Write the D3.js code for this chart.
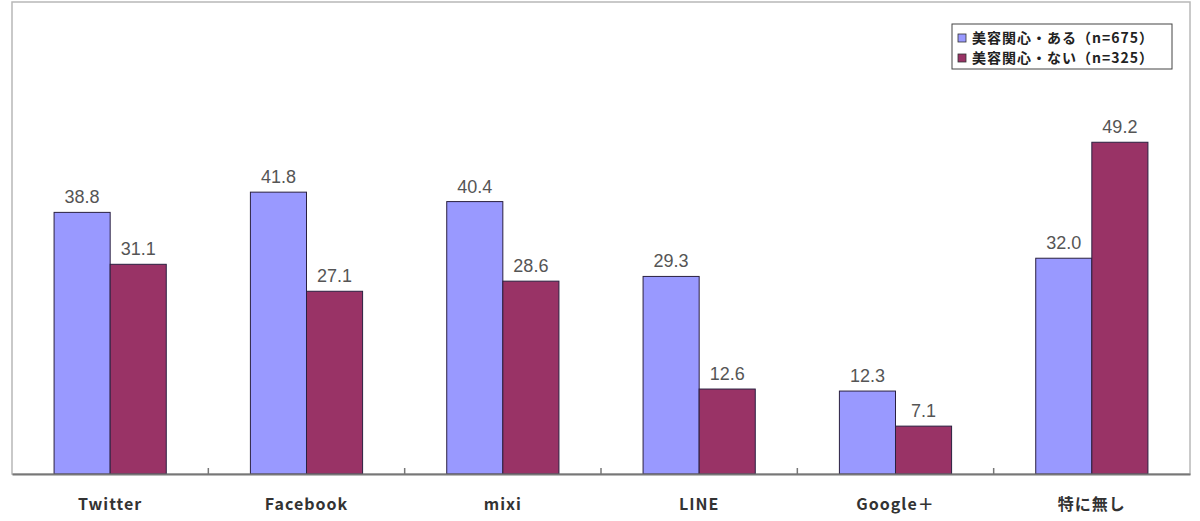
<!DOCTYPE html>
<html lang="ja">
<head>
<meta charset="UTF-8">
<title>SNS利用率</title>
<script src="https://cdnjs.cloudflare.com/ajax/libs/d3/7.8.5/d3.min.js"></script>
<style>
    body { margin: 0; padding: 0; background: #fff; }
    svg { display: block; }
    .val { font-family: "Liberation Sans", Arial, sans-serif; font-size: 18px; fill: #555; }
    .cat { font-family: "Noto Sans CJK JP", sans-serif; font-size: 16px; font-weight: bold; fill: #333; letter-spacing: 1px; }
    .leg { font-family: "Noto Sans CJK JP", sans-serif; font-size: 14px; font-weight: bold; fill: #222; letter-spacing: 1px; }
</style>
</head>
<body>
<div id="chart"></div>
<script>
// data
const categories = ["Twitter", "Facebook", "mixi", "LINE", "Google＋", "特に無し"];
const seriesNames = ["美容関心・ある（n=675）", "美容関心・ない（n=325）"];
const interested = [38.8, 41.8, 40.4, 29.3, 12.3, 32.0];
const notInterested = [31.1, 27.1, 28.6, 12.6, 7.1, 49.2];
const colors = ["#9999ff", "#993366"];

const W = 1200, H = 521;
const plot = { left: 12, right: 1190, top: 2, bottom: 474 };

const svg = d3.select("#chart").append("svg")
    .attr("width", W)
    .attr("height", H);

const x0 = d3.scaleBand()
    .domain(categories)
    .range([plot.left, plot.right])
    .paddingInner(0)
    .paddingOuter(0);

// two bars per slot, 0.75 step of gap on each side
const x1 = d3.scaleBand()
    .domain([0, 1])
    .range([0, x0.bandwidth()])
    .paddingInner(0)
    .paddingOuter(0.75);

const y = d3.scaleLinear()
    .domain([0, 70])
    .range([plot.bottom, plot.top]);

// plot frame
svg.append("rect")
    .attr("x", plot.left)
    .attr("y", plot.top)
    .attr("width", plot.right - plot.left)
    .attr("height", plot.bottom - plot.top)
    .attr("fill", "none")
    .attr("stroke", "#b8b8b8")
    .attr("stroke-width", 1.5);

const rows = categories.map((c, i) => ({ cat: c, vals: [interested[i], notInterested[i]] }));

const groups = svg.append("g").selectAll("g")
    .data(rows)
    .join("g")
    .attr("transform", d => `translate(${x0(d.cat)},0)`);

groups.selectAll("rect")
    .data(d => d.vals.map((v, k) => ({ v, k })))
    .join("rect")
    .attr("x", d => x1(d.k))
    .attr("y", d => y(d.v))
    .attr("width", x1.bandwidth())
    .attr("height", d => y(0) - y(d.v))
    .attr("fill", d => colors[d.k])
    .attr("stroke", "#2a2040")
    .attr("stroke-width", 1);

groups.selectAll("text")
    .data(d => d.vals.map((v, k) => ({ v, k })))
    .join("text")
    .attr("class", "val")
    .attr("x", d => x1(d.k) + x1.bandwidth() / 2)
    .attr("y", d => y(d.v) - 9)
    .attr("text-anchor", "middle")
    .text(d => d3.format(".1f")(d.v));

// baseline axis with inward ticks at category boundaries
const axis = d3.axisBottom(x0).tickSize(0).tickFormat("");
svg.append("g")
    .attr("transform", `translate(0,${plot.bottom})`)
    .call(axis)
    .call(g => g.select(".domain").attr("stroke", "#777").attr("stroke-width", 2));

svg.append("g").selectAll("line")
    .data(categories.slice(1))
    .join("line")
    .attr("x1", d => x0(d))
    .attr("x2", d => x0(d))
    .attr("y1", plot.bottom)
    .attr("y2", plot.bottom - 6)
    .attr("stroke", "#777")
    .attr("stroke-width", 1.5);

// category labels
svg.append("g").selectAll("text")
    .data(categories)
    .join("text")
    .attr("class", "cat")
    .attr("x", d => x0(d) + x0.bandwidth() / 2)
    .attr("y", 510)
    .attr("text-anchor", "middle")
    .text(d => d);

// legend
const legend = svg.append("g").attr("transform", "translate(952,24)");
legend.append("rect")
    .attr("width", 220)
    .attr("height", 45)
    .attr("fill", "#fff")
    .attr("stroke", "#444")
    .attr("stroke-width", 1);

const items = legend.selectAll("g")
    .data(seriesNames)
    .join("g")
    .attr("transform", (d, i) => `translate(6,${14 + i * 20})`);

items.append("rect")
    .attr("x", 0)
    .attr("y", -4)
    .attr("width", 8)
    .attr("height", 8)
    .attr("fill", (d, i) => colors[i])
    .attr("stroke", "#333")
    .attr("stroke-width", 0.8);

items.append("text")
    .attr("class", "leg")
    .attr("x", 14)
    .attr("y", 5)
    .text(d => d);
</script>
</body>
</html>
